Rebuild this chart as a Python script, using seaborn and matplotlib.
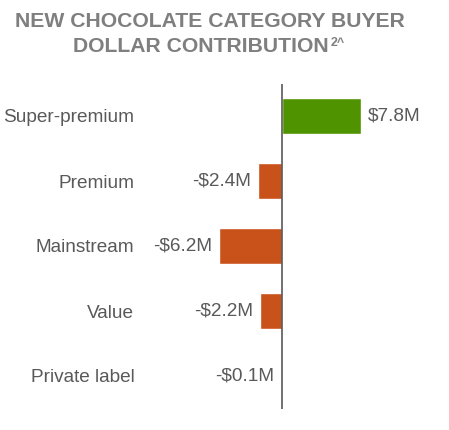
import matplotlib
matplotlib.use("Agg")
import matplotlib.pyplot as plt
import seaborn as sns
import pandas as pd

categories = ["Super-premium", "Premium", "Mainstream", "Value", "Private label"]
values = [7.8, -2.4, -6.2, -2.2, -0.1]
labels = ["$7.8M", "-$2.4M", "-$6.2M", "-$2.2M", "-$0.1M"]
title_line1 = "NEW CHOCOLATE CATEGORY BUYER"
title_line2 = "DOLLAR CONTRIBUTION"
title_sup = "2^"

sns.set_style("white")
plt.rcParams['font.family'] = ['Liberation Sans', 'DejaVu Sans']

GREEN = "#4F9300"
ORANGE = "#C9511A"
TEXT = "#595959"
TITLE = "#7F7F7F"
FS = 13.7

df = pd.DataFrame({"category": categories, "value": values})
palette = {c: (GREEN if v >= 0 else ORANGE) for c, v in zip(categories, values)}

fig = plt.figure(figsize=(4.49, 4.30), dpi=100)
W, H = 449, 430
left_px, right_px = 201, 404
top_px, bot_px = 83.5, 408.5
ax = fig.add_axes([left_px / W, 1 - bot_px / H, (right_px - left_px) / W, (bot_px - top_px) / H])

sns.barplot(data=df, x="value", y="category", hue="category", palette=palette,
            orient="h", width=0.55, legend=False, ax=ax, saturation=1)

ax.set_xlim(-8, 12)
ax.set_ylim(4.5, -0.5)
for s in ax.spines.values():
    s.set_visible(False)
ax.axvline(0, color=TEXT, lw=1.2, zorder=5)
ax.set_xticks([])
ax.set_xlabel("")
ax.set_ylabel("")
ax.tick_params(axis="y", length=0, pad=48, labelsize=FS, labelcolor=TEXT)

for i, (v, lab) in enumerate(zip(values, labels)):
    off = 5 if v >= 0 else -5
    ax.annotate(lab, xy=(v, i), xytext=(off, 0), textcoords="offset points",
                ha="left" if v >= 0 else "right", va="center",
                fontsize=FS, color=TEXT, annotation_clip=False)

fig.text(210 / W, 1 - 27 / H, title_line1, ha="center", va="baseline",
         fontsize=15.2, fontweight="bold", color=TITLE)
t2 = fig.text(201 / W, 1 - 52 / H, title_line2, ha="center", va="baseline",
              fontsize=15.2, fontweight="bold", color=TITLE)
ax.annotate(title_sup, xy=(1, 1), xycoords=t2, xytext=(1, 0), textcoords="offset points",
            ha="left", va="top", fontsize=9, fontweight="bold", color=TITLE,
            annotation_clip=False)

fig.savefig("out.png", dpi=100)
